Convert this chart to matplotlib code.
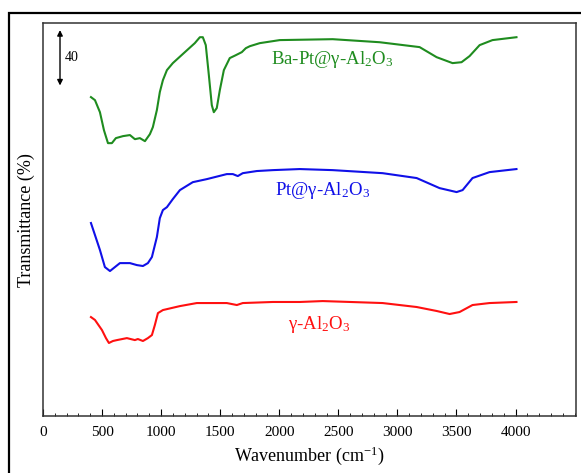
import matplotlib
matplotlib.use("Agg")
import matplotlib.pyplot as plt
from matplotlib.patches import Rectangle
from matplotlib.ticker import MultipleLocator

plt.rcParams["font.family"] = ["Liberation Serif", "DejaVu Serif"]
plt.rcParams["mathtext.fontset"] = "custom"
plt.rcParams["mathtext.rm"] = "Liberation Serif"
plt.rcParams["mathtext.it"] = "Liberation Serif:italic"

# FTIR spectra, offset for display (arbitrary transmittance units)
wn_bapt = [406, 440, 482, 516, 550, 583, 617, 677, 736, 778, 820, 863, 905, 930, 964,
           989, 1015, 1049, 1099, 1201, 1285, 1328, 1353, 1378, 1404, 1429, 1446, 1471,
           1497, 1531, 1581, 1632, 1683, 1717, 1751, 1835, 2004, 2452, 2850, 3188, 3332,
           3467, 3543, 3611, 3696, 3805, 4008]
t_bapt = [209.2, 207.2, 199.3, 187.5, 179.0, 179.0, 182.3, 183.6, 184.3, 181.6, 182.3,
          180.3, 184.9, 189.5, 200.7, 212.5, 220.3, 226.9, 231.5, 238.7, 244.6, 248.5,
          248.5, 243.3, 223.6, 203.9, 199.3, 202.0, 213.8, 226.9, 234.8, 236.7, 238.7,
          241.3, 242.6, 244.6, 246.6, 247.2, 245.2, 242.0, 235.4, 231.5, 232.1, 236.1,
          243.3, 246.6, 248.5]

wn_pt = [406, 440, 482, 524, 567, 609, 651, 736, 795, 846, 888, 922, 947, 964, 989, 1015,
         1049, 1099, 1159, 1268, 1387, 1556, 1607, 1649, 1691, 1810, 1945, 2173, 2452,
         2875, 3163, 3357, 3501, 3552, 3636, 3780, 4008]
t_pt = [126.6, 118.7, 108.9, 97.7, 95.1, 97.7, 100.3, 100.3, 99.0, 98.4, 100.3, 104.3,
        112.1, 117.4, 129.8, 135.1, 137.0, 142.3, 148.2, 153.4, 155.4, 158.7, 158.7, 157.4,
        159.3, 160.7, 161.3, 162.0, 161.3, 159.3, 156.1, 149.5, 146.9, 148.2, 156.1, 160.0,
        162.0]

wn_al = [406, 440, 499, 533, 558, 592, 626, 710, 778, 803, 846, 888, 922, 947, 973, 1015,
         1159, 1302, 1556, 1641, 1691, 1945, 2173, 2368, 2875, 3163, 3332, 3442, 3526,
         3636, 3780, 4008]
t_al = [64.9, 63.0, 56.4, 51.1, 47.9, 49.2, 49.8, 51.1, 49.8, 50.5, 49.2, 51.1, 53.1, 59.7,
        67.5, 69.5, 72.1, 74.1, 74.1, 72.8, 74.1, 74.8, 74.8, 75.4, 74.1, 71.5, 68.9, 66.9,
        68.2, 72.8, 74.1, 74.8]

labels = ["Ba-Pt@γ-Al$_2$O$_3$", "Pt@γ-Al$_2$O$_3$", "γ-Al$_2$O$_3$"]
colors = ["#1f8c1f", "#1010e8", "#ff1010"]
xticks = [0, 500, 1000, 1500, 2000, 2500, 3000, 3500, 4000]

fig = plt.figure(figsize=(5.81, 4.73), dpi=100)
ax = fig.add_axes([0.074, 0.1205, 0.917, 0.8305])

for wn, t, c in zip([wn_bapt, wn_pt, wn_al], [t_bapt, t_pt, t_al], colors):
    ax.plot(wn, t, color=c, lw=1.5)

ax.text(2450, 234, labels[0], color=colors[0], fontsize=13.5, ha="center", va="center")
ax.text(2370, 148, labels[1], color=colors[1], fontsize=13.5, ha="center", va="center")
ax.text(2340, 60, labels[2], color=colors[2], fontsize=13.5, ha="center", va="center")

# 40-unit scale bar
ax.annotate("", xy=(144, 255), xytext=(144, 215),
            arrowprops=dict(arrowstyle="<|-|>", color="black", lw=1, mutation_scale=8))
ax.text(185, 235, "40", fontsize=10, va="center", ha="left")

ax.set_xlim(0, 4510)
ax.set_ylim(0, 257.7)
ax.set_xticks(xticks)
ax.xaxis.set_minor_locator(MultipleLocator(100))
ax.tick_params(axis="x", which="both", direction="in", top=False, labelsize=11, pad=7)
ax.tick_params(axis="x", which="major", length=5)
ax.tick_params(axis="x", which="minor", length=2.5)
ax.set_yticks([])
for s in ax.spines.values():
    s.set_color("#333333")
    s.set_linewidth(1.1)

ax.set_xlabel("Wavenumber (cm$^{-1}$)", fontsize=13, labelpad=4)
ax.set_ylabel("Transmittance (%)", fontsize=13, labelpad=6)

# outer frame around the figure
fig.add_artist(Rectangle((0.0155, -0.05), 1.1, 0.9725 + 0.05, transform=fig.transFigure,
                         fill=False, edgecolor="black", lw=1.6, clip_on=False))

fig.savefig("out.png", dpi=100)
